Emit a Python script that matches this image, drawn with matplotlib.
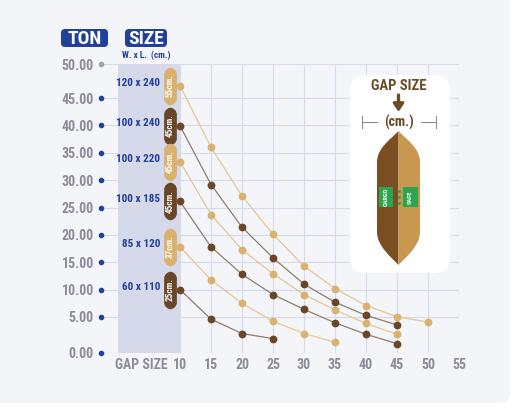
"""Safe load (ton) versus cargo gap size for six bag sizes (W x L, cm)."""

import matplotlib

matplotlib.use("Agg")
import matplotlib.pyplot as plt
import numpy as np
from matplotlib import font_manager as fm
from matplotlib.patches import FancyBboxPatch, PathPatch, Rectangle
from matplotlib.path import Path

# ---- data --------------------------------------------------------------
GAP_CM = [10, 15, 20, 25, 30, 35, 40, 45, 50]
SIZES = ["120 x 240", "100 x 240", "100 x 220", "100 x 185", "85 x 120", "60 x 110"]
MAX_GAP = ["55cm.", "45cm.", "45cm.", "45cm.", "37cm.", "25cm."]
TON_120x240 = [46.8, 36.0, 27.1, 20.1, 14.3, 10.2, 7.1, 5.05, 4.3]
TON_100x240 = [39.9, 29.2, 21.4, 15.8, 11.0, 7.7, 5.3, 3.9]
TON_100x220 = [33.4, 23.7, 17.3, 12.9, 9.1, 6.3, 4.1, 2.6]
TON_100x185 = [26.1, 17.8, 12.8, 9.1, 6.4, 4.2, 2.6, 1.3]
TON_85x120 = [17.8, 11.8, 7.5, 4.4, 2.7, 1.5]
TON_60x110 = [10.0, 4.7, 2.7, 2.0]
SERIES = [TON_120x240, TON_100x240, TON_100x220, TON_100x185, TON_85x120, TON_60x110]
Y_TICKS = [0, 5, 10, 15, 20, 25, 30, 35, 40, 45, 50]
X_TICKS = [10, 15, 20, 25, 30, 35, 40, 45, 50, 55]

# ---- styling -----------------------------------------------------------
W, H = 519, 408
NAVY = "#21409a"
GRAY = "#8b8c99"
GRID = "#d7dbe9"
BAND = "#d6d9ea"
CARD = "#f3f5f9"
BROWN = "#6b4a26"
LIGHT = {"dot": "#d9b26f", "line": "#e3c894"}
DARK = {"dot": "#6a4628", "line": "#8f7c6a"}

# the infographic's y axis is stretched a little at both ends
Y_KNOTS = [0, 5, 45, 50]
Y_PIX = [0, 36, 255, 289]


def pick_font(*names):
    have = {f.name for f in fm.fontManager.ttflist}
    for n in names:
        if n in have:
            return n
    return "DejaVu Sans"


NARROW = pick_font("Liberation Sans Narrow", "Roboto Condensed", "DejaVu Sans")
plt.rcParams["font.family"] = [NARROW, "DejaVu Sans"]
plt.rcParams["font.weight"] = "bold"


def fig_rect(x0, y0, x1, y1):
    return [x0 / W, 1 - y1 / H, (x1 - x0) / W, (y1 - y0) / H]


def pill_marker(w=0.34):
    h = w / 2
    verts = [(0, 0.5), (h * 0.45, 0.5), (h, 0.42), (h, 0.32),
             (h, -0.32), (h, -0.42), (h * 0.45, -0.5), (0, -0.5),
             (-h * 0.45, -0.5), (-h, -0.42), (-h, -0.32),
             (-h, 0.32), (-h, 0.42), (-h * 0.45, 0.5), (0, 0.5)]
    C, L = Path.CURVE4, Path.LINETO
    codes = [Path.MOVETO, C, C, C, L, C, C, C, C, C, C, L, C, C, C]
    return Path(verts, codes)


def draw_legend(deco):
    deco.add_patch(FancyBboxPatch((350, 75), 100, 198, boxstyle="round,pad=0,rounding_size=16",
                                  fc="white", ec="none"))
    deco.text(399, 86, "GAP SIZE", ha="center", va="center", color=BROWN, fontsize=10.5)
    deco.annotate("", xy=(398.5, 112), xytext=(398.5, 95),
                  arrowprops=dict(arrowstyle="-|>,head_width=0.3,head_length=0.45",
                                  color=BROWN, lw=2.4, shrinkA=0, shrinkB=0))
    deco.text(399, 122, "(cm.)", ha="center", va="center", color=BROWN, fontsize=10)
    for xs, xt in (([362, 377], 362), ([421, 436], 436)):
        deco.plot(xs, [122, 122], color="#8d8d8d", lw=0.8)
        deco.plot([xt, xt], [116, 128], color="#8d8d8d", lw=0.8)

    cx = 398.5
    for sign, col in ((-1, "#7a4e20"), (1, "#c9984f")):
        w = 21.5 * sign
        verts = [(cx, 131), (cx + w * 0.35, 139), (cx + w, 148), (cx + w, 162),
                 (cx + w, 232), (cx + w, 246), (cx + w * 0.35, 257), (cx, 265), (cx, 131)]
        C = Path.CURVE4
        codes = [Path.MOVETO, C, C, C, Path.LINETO, C, C, C, Path.CLOSEPOLY]
        deco.add_patch(PathPatch(Path(verts, codes), fc=col, ec="none"))

    green = "#2da44e"
    for x0, w, label in ((379, 14, "CARGO"), (403, 15, "SAFE")):
        deco.add_patch(Rectangle((x0, 187), w, 20, fc=green, ec="none"))
        deco.text(x0 + w / 2, 197, label, rotation=90, ha="center", va="center",
                  color="white", fontsize=4.6)
    for yy in (191, 197, 203):
        deco.plot(cx, yy, "o", ms=1.2, color=green)


def plot():
    fig = plt.figure(figsize=(W / 100, H / 100), dpi=100)
    fig.patch.set_facecolor("white")

    bg = fig.add_axes([0, 0, 1, 1], zorder=-1)
    bg.set_xlim(0, W)
    bg.set_ylim(H, 0)
    bg.axis("off")
    bg.add_patch(FancyBboxPatch((-20, -20), 530, 423, boxstyle="round,pad=0,rounding_size=10",
                                fc=CARD, ec="none"))

    ax = fig.add_axes(fig_rect(103, 64, 459, 353))
    ax.set_facecolor("none")
    ax.set_xlim(-2.42, 55)
    ax.set_yscale("function", functions=(lambda v: np.interp(v, Y_KNOTS, Y_PIX),
                                         lambda p: np.interp(p, Y_PIX, Y_KNOTS)))
    ax.set_ylim(0, 50)
    ax.set_xticks(X_TICKS)
    ax.set_yticks(Y_TICKS, labels=[f"{v:.2f}" for v in Y_TICKS])
    ax.grid(True, color=GRID, lw=0.8)
    ax.set_axisbelow(True)
    for s in ax.spines.values():
        s.set_visible(False)
    ax.tick_params(axis="both", length=0, labelsize=10, labelcolor=GRAY)
    ax.tick_params(axis="y", pad=6.5)
    ax.tick_params(axis="x", pad=3.6)

    ax.axvspan(0, 10, color=BAND, lw=0, zorder=1)

    # little dots beside each y label
    ytrans = ax.get_yaxis_transform()
    for v in Y_TICKS:
        ax.plot(-0.007, v, "o", ms=3, transform=ytrans, clip_on=False,
                color="#a0a1ab" if v == 50 else NAVY, zorder=5)
    ax.annotate("GAP SIZE", xy=(3.7, 0), xycoords=ax.get_xaxis_transform(),
                xytext=(0, -3.6), textcoords="offset points", ha="center", va="top",
                color=GRAY, fontsize=10)

    pill = pill_marker()
    for i, vals in enumerate(SERIES):
        sty = LIGHT if i % 2 == 0 else DARK
        xs = GAP_CM[:len(vals)]
        ax.plot(xs, vals, color=sty["line"], lw=0.9, zorder=3)
        ax.plot(xs, vals, "o", ms=4.6, color=sty["dot"], zorder=4, clip_on=False)
        ax.plot(8.4, vals[0], marker=pill, ms=27, color=sty["dot"], mec="none", zorder=4)
        ax.text(8.4, vals[0], MAX_GAP[i], rotation=90, ha="center", va="center",
                color="white", fontsize=6.6, zorder=5)
        ax.annotate(SIZES[i], xy=(6.8, vals[0]), xytext=(0, 2), textcoords="offset points",
                    ha="right", va="center", color=NAVY, fontsize=8, zorder=5)

    deco = fig.add_axes([0, 0, 1, 1], zorder=3)
    deco.set_xlim(0, W)
    deco.set_ylim(H, 0)
    deco.axis("off")
    deco.patch.set_alpha(0)

    for x0, x1, label in ((61, 108, "TON"), (125, 167, "SIZE")):
        deco.add_patch(FancyBboxPatch((x0, 29), x1 - x0, 18,
                                      boxstyle="round,pad=0,rounding_size=4", fc=NAVY, ec="none"))
        deco.text((x0 + x1) / 2, 38.5, label, ha="center", va="center", color="white",
                  fontsize=14)
    deco.text(146, 55, "W. x L.  (cm.)", ha="center", va="center", color=NAVY, fontsize=6.6)

    draw_legend(deco)

    fig.savefig("out.png", dpi=100)
    plt.close(fig)


def main() -> int:
    plot()
    return 0


if __name__ == "__main__":
    raise SystemExit(main())
